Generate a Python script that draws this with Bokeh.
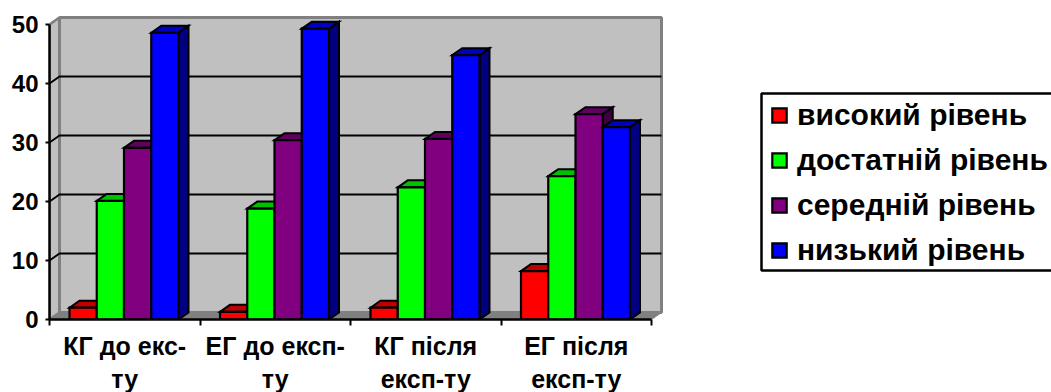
from bokeh.embed import file_html
from bokeh.models import BoxAnnotation, FixedTicker, Legend, LegendItem, LinearAxis, Range1d
from bokeh.plotting import figure
from bokeh.resources import INLINE

# Survey results per group, in percent
line_one = ["КГ до екс-", "ЕГ до експ-", "КГ після", "ЕГ після"]
line_two = ["ту", "ту", "експ-ту", "експ-ту"]
series_names = ["високий рівень", "достатній рівень", "середній рівень", "низький рівень"]
high = [2.0, 1.3, 2.0, 8.2]
sufficient = [20.1, 18.8, 22.4, 24.3]
medium = [29.1, 30.4, 30.6, 34.8]
low = [48.6, 49.3, 44.8, 32.6]
value_ticks = [0, 10, 20, 30, 40, 50]

series_values = [high, sufficient, medium, low]
front_colors = ["#FF0000", "#00FF00", "#800080", "#0000FF"]
top_colors = ["#C00000", "#00C000", "#600060", "#0000C0"]
side_colors = ["#800000", "#008000", "#400040", "#000080"]

# Scale: one category is 150.5 px wide, ten value units are 59 px tall
CAT_PX = 150.5
VAL_PX = 5.9
DX = 10 / CAT_PX   # oblique depth of the box, horizontally
DY = 7 / VAL_PX    # oblique depth of the box, vertically
BAR = 27.25 / CAT_PX
GAP = 20 / CAT_PX
N = len(line_one)
WALL = "#C0C0C0"
EDGE = "#808080"

# The frame runs to the right edge so the legend can sit inside it
p = figure(
    width=1051, height=392, frame_width=1002, frame_height=305,
    output_backend="svg", toolbar_location=None,
    x_axis_type=None, y_axis_type=None,
    x_range=Range1d(0, 1002 / CAT_PX), y_range=Range1d(0, 305 / VAL_PX),
    min_border_left=49, min_border_right=0, min_border_top=14, min_border_bottom=73,
    background_fill_color="white", outline_line_color=None,
)
p.grid.visible = False

# Box: left wall, floor and back wall
p.patch([0, DX, DX, 0], [0, DY, 50 + DY, 50], fill_color=WALL, line_color=EDGE, line_width=2.5)
p.patch([0, N, N + DX, DX], [0, 0, DY, DY], fill_color=EDGE, line_color=EDGE, line_width=1)
p.quad(left=[DX], right=[N + DX], bottom=[DY], top=[50 + DY],
       fill_color=WALL, line_color=EDGE, line_width=3)

# Gridlines on the back wall with their oblique run across the left wall
for v in value_ticks[1:-1]:
    p.line([0, DX, N + DX], [v, v + DY, v + DY], line_color="black", line_width=2)
p.line([0, DX], [50, 50 + DY], line_color=EDGE, line_width=2)

# Bars: side and top faces first, then the front face
bar_renderers = []
for s, values in enumerate(series_values):
    lefts = [i + GAP + s * BAR for i in range(N)]
    rights = [x + BAR for x in lefts]
    p.patches(
        [[r, r + DX, r + DX, r] for r in rights],
        [[0, DY, v + DY, v] for v in values],
        fill_color=side_colors[s], line_color="black", line_width=2, line_join="miter",
    )
    p.patches(
        [[l, l + DX, r + DX, r] for l, r in zip(lefts, rights)],
        [[v, v + DY, v + DY, v] for v in values],
        fill_color=top_colors[s], line_color="black", line_width=2, line_join="miter",
    )
    bar_renderers.append(p.vbar(
        x=[(l + r) / 2 for l, r in zip(lefts, rights)], width=BAR, top=values, bottom=0,
        fill_color=front_colors[s], line_color="black", line_width=2.2, line_join="miter",
    ))

FONT = "Liberation Sans"

y_axis = LinearAxis(
    ticker=FixedTicker(ticks=value_ticks), bounds=(0, 50),
    axis_line_color="black", axis_line_width=2.5,
    major_tick_line_color="black", major_tick_line_width=2,
    major_tick_in=0, major_tick_out=4, minor_tick_line_color=None,
    major_label_text_font=FONT, major_label_text_font_style="bold",
    major_label_text_font_size="24px", major_label_text_color="black",
    major_label_standoff=7,
)
p.add_layout(y_axis, "left")

centers = [i + 0.5 for i in range(N)]
x_axis = LinearAxis(
    ticker=FixedTicker(ticks=centers, minor_ticks=list(range(N + 1))), bounds=(0, N),
    axis_line_color="black", axis_line_width=2.5,
    major_tick_line_color=None, major_tick_in=0, major_tick_out=0,
    minor_tick_line_color="black", minor_tick_line_width=2, minor_tick_in=0, minor_tick_out=6,
    major_label_overrides=dict(zip(centers, line_one)),
    major_label_text_font=FONT, major_label_text_font_style="bold",
    major_label_text_font_size="25px", major_label_text_color="black",
    major_label_standoff=6,
)
p.add_layout(x_axis, "below")

x_axis_second = LinearAxis(
    ticker=FixedTicker(ticks=centers), axis_line_color=None,
    major_tick_line_color=None, major_tick_in=0, major_tick_out=0,
    minor_tick_line_color=None,
    major_label_overrides=dict(zip(centers, line_two)),
    major_label_text_font=FONT, major_label_text_font_style="bold",
    major_label_text_font_size="25px", major_label_text_color="black",
    major_label_standoff=2,
)
p.add_layout(x_axis_second, "below")

# Legend frame, open at the right edge of the page
p.add_layout(BoxAnnotation(
    left=761, right=1060, top=93, bottom=270,
    left_units="canvas", right_units="canvas", top_units="canvas", bottom_units="canvas",
    fill_color="white", fill_alpha=1, line_color="black", line_alpha=1, line_width=2.5,
))

legend = Legend(
    items=[LegendItem(label=n, renderers=[r]) for n, r in zip(series_names, bar_renderers)],
    location=(721, 52), orientation="vertical",
    background_fill_alpha=0, border_line_color=None,
    padding=10, margin=0, spacing=11,
    glyph_width=18, glyph_height=18, label_standoff=9,
    label_text_font=FONT, label_text_font_style="bold",
    label_text_font_size="30px", label_text_color="black",
)
p.add_layout(legend, "center")

open("out.html", "w").write(file_html(p, INLINE))
